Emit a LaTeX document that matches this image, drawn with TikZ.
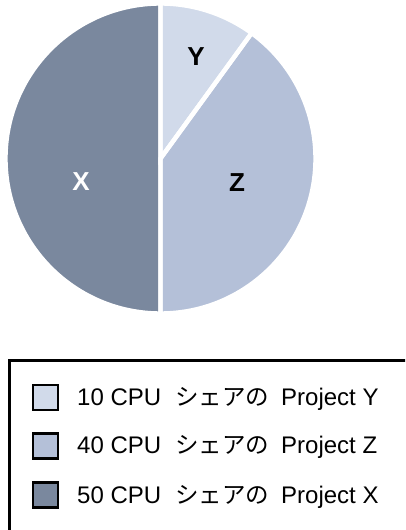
\documentclass[tikz,border=0pt]{standalone}
\usepackage{fontspec}
\setmainfont{Liberation Sans}
\newfontfamily\jpfont{Noto Sans CJK JP}
\definecolor{shareY}{RGB}{209,218,234}
\definecolor{shareZ}{RGB}{180,192,216}
\definecolor{shareX}{RGB}{122,136,158}
\newcommand\sharetext{{\jpfont\fontsize{23.5}{28}\selectfont シェアの}}
\begin{document}
\begin{tikzpicture}[x=1pt,y=1pt,
  slice/.style={draw=white,line width=4.4pt,line join=miter},
  slicelabel/.style={font=\fontsize{26}{30}\selectfont\bfseries,inner sep=0pt},
  swatch/.style={draw=black,line width=2.5pt,minimum size=25pt,inner sep=0pt},
  legendtext/.style={font=\fontsize{24}{28}\selectfont,inner sep=0pt,anchor=base west}]
\useasboundingbox (0,0) rectangle (405,530);
\clip (0,0) rectangle (405,530);

% pie chart: Y 10%, Z 40%, X 50%
\coordinate (c) at (160.5,371.5);
\def\R{155}
\fill[shareY] (c) -- ++(54:\R) arc[start angle=54,end angle=90,radius=\R] -- cycle;
\fill[shareZ] (c) -- ++(-90:\R) arc[start angle=-90,end angle=54,radius=\R] -- cycle;
\fill[shareX] (c) -- ++(90:\R) arc[start angle=90,end angle=270,radius=\R] -- cycle;
\draw[slice] (c) -- ++(54:\R) arc[start angle=54,end angle=90,radius=\R] -- cycle;
\draw[slice] (c) -- ++(-90:\R) arc[start angle=-90,end angle=54,radius=\R] -- cycle;
\draw[slice] (c) -- ++(90:\R) arc[start angle=90,end angle=270,radius=\R] -- cycle;

\node[slicelabel,text=black] (labY) at (196,473.5) {Y};
\node[slicelabel,text=black] (labZ) at (237,347) {Z};
\node[slicelabel,text=white] (labX) at (81,348) {X};

% legend
\draw[line width=3pt] (9,169) rectangle (425,-20);
\node[swatch,fill=shareY] (sqY) at (45.7,132.5) {};
\node[swatch,fill=shareZ] (sqZ) at (45.7,84) {};
\node[swatch,fill=shareX] (sqX) at (45.7,35) {};
\node[legendtext] (txY) at (77,124.5) {\makebox[98pt][l]{10 CPU}\makebox[106pt][l]{\sharetext}Project Y};
\node[legendtext] (txZ) at (77,76) {\makebox[98pt][l]{40 CPU}\makebox[106pt][l]{\sharetext}Project Z};
\node[legendtext] (txX) at (77,27) {\makebox[98pt][l]{50 CPU}\makebox[106pt][l]{\sharetext}Project X};
\end{tikzpicture}
\end{document}
